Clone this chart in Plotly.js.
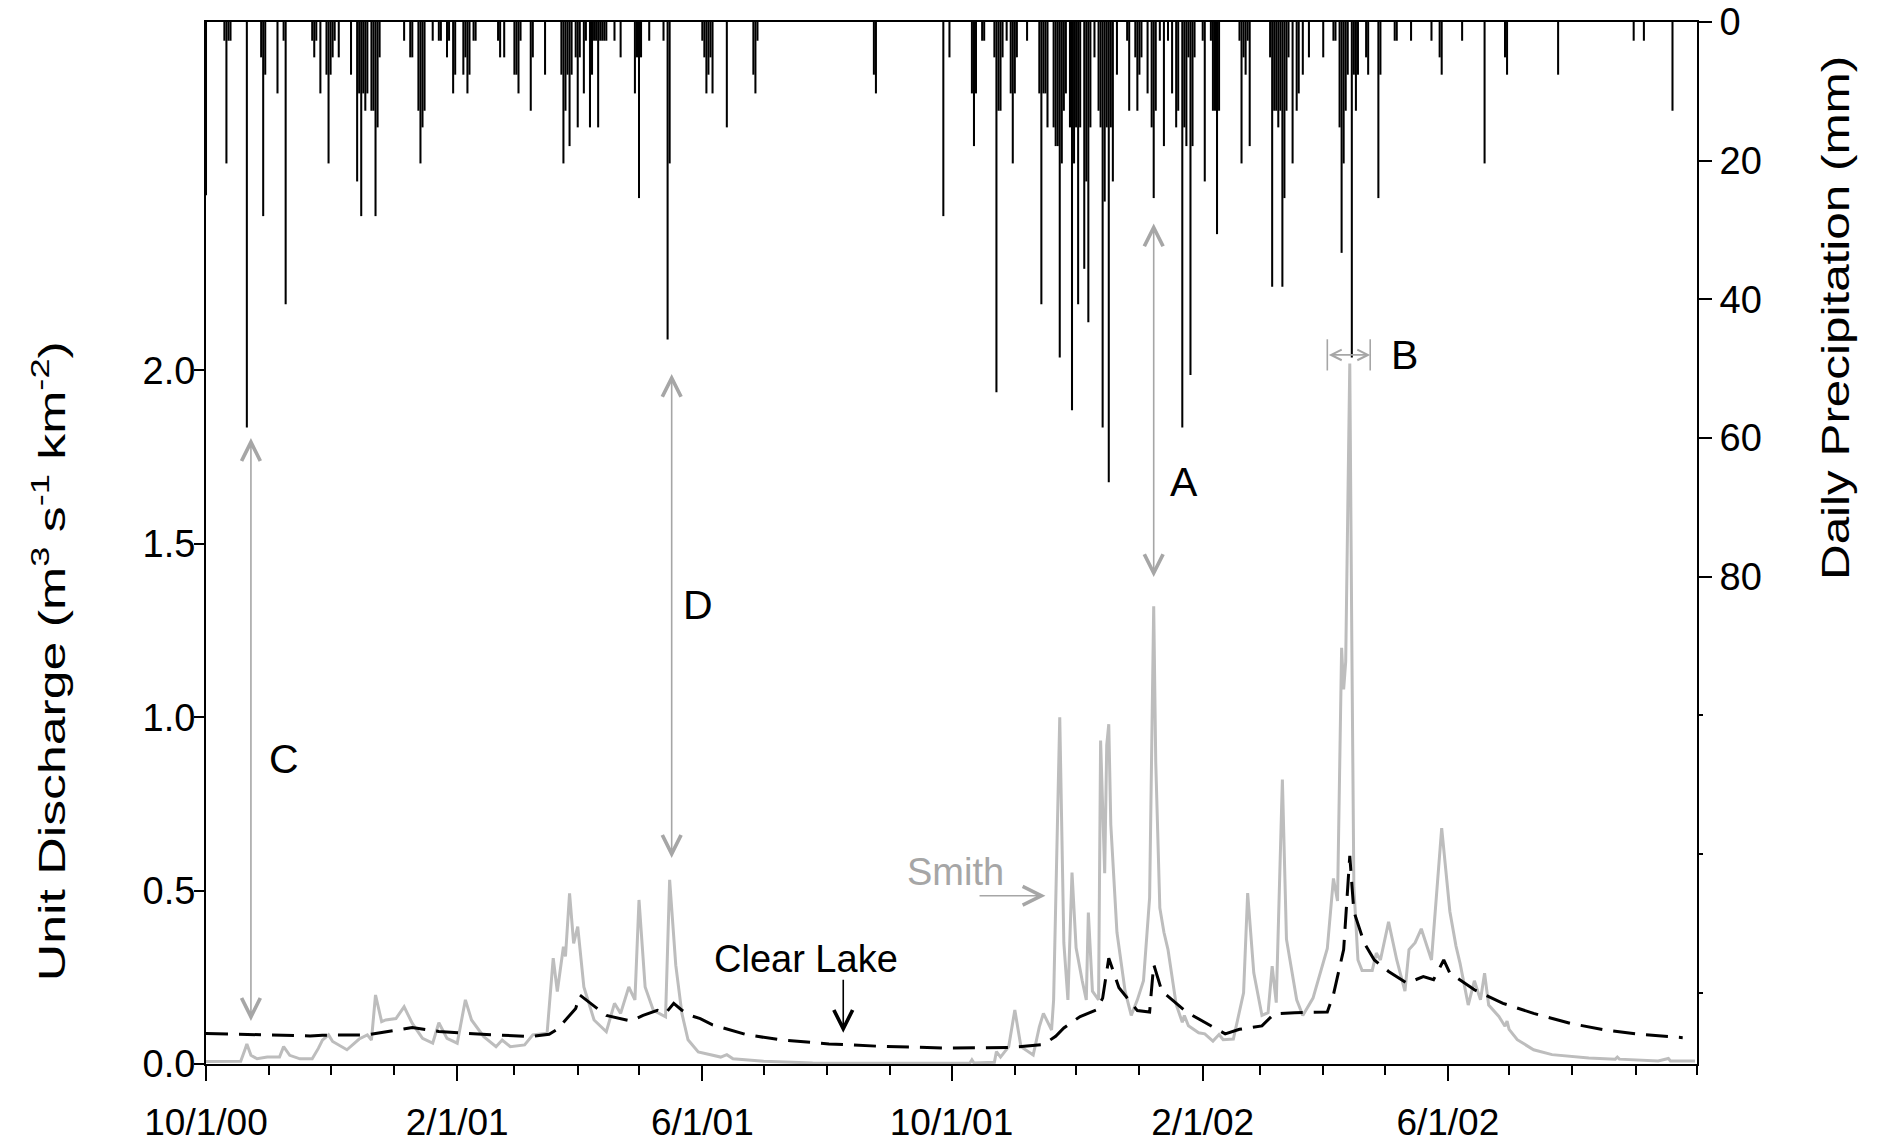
<!DOCTYPE html>
<html>
<head>
<meta charset="utf-8">
<script src="https://cdn.plot.ly/plotly-3.0.1.min.js"></script>
<style>html,body{margin:0;padding:0;background:#fff;}#chart{width:1881px;height:1144px;}</style>
</head>
<body>
<div id="chart"></div>
<script>
// ---------------- DATA ----------------
// Daily precipitation (mm), right axis (reversed)
const precipDates = [
 "2000-10-01","2000-10-10","2000-10-11","2000-10-12","2000-10-13","2000-10-21","2000-10-28","2000-10-29","2000-10-30",
 "2000-11-05","2000-11-08","2000-11-09","2000-11-22","2000-11-23","2000-11-24","2000-11-26","2000-11-29","2000-11-30",
 "2000-12-01","2000-12-02","2000-12-03","2000-12-05","2000-12-11","2000-12-14","2000-12-15","2000-12-16","2000-12-17",
 "2000-12-18","2000-12-19","2000-12-21","2000-12-22","2000-12-23","2000-12-24","2000-12-25",
 "2001-01-06","2001-01-09","2001-01-10","2001-01-13","2001-01-14","2001-01-15","2001-01-16","2001-01-20","2001-01-23",
 "2001-01-24","2001-01-27","2001-01-28","2001-01-30","2001-01-31",
 "2001-02-04","2001-02-05","2001-02-06","2001-02-07","2001-02-09","2001-02-10","2001-02-21","2001-02-22","2001-02-24",
 "2001-03-01","2001-03-02","2001-03-03","2001-03-04","2001-03-09","2001-03-10","2001-03-16","2001-03-24","2001-03-25",
 "2001-03-26","2001-03-27","2001-03-28","2001-03-29","2001-03-31",
 "2001-04-01","2001-04-02","2001-04-04","2001-04-05","2001-04-07","2001-04-08","2001-04-09","2001-04-10","2001-04-11",
 "2001-04-12","2001-04-13","2001-04-14","2001-04-15","2001-04-19","2001-04-22","2001-04-29","2001-04-30",
 "2001-05-01","2001-05-02","2001-05-06","2001-05-13","2001-05-15","2001-05-16",
 "2001-06-01","2001-06-02","2001-06-03","2001-06-04","2001-06-05","2001-06-06","2001-06-13","2001-06-26","2001-06-27","2001-06-28",
 "2001-08-24","2001-08-25","2001-09-27","2001-09-30",
 "2001-10-11","2001-10-12","2001-10-13","2001-10-16","2001-10-17","2001-10-22","2001-10-23","2001-10-24","2001-10-25",
 "2001-10-26","2001-10-28","2001-10-30","2001-10-31",
 "2001-11-01","2001-11-02","2001-11-07","2001-11-13","2001-11-14","2001-11-15","2001-11-16","2001-11-17","2001-11-20",
 "2001-11-21","2001-11-22","2001-11-23","2001-11-24","2001-11-25","2001-11-26","2001-11-28","2001-11-29","2001-11-30",
 "2001-12-01","2001-12-02","2001-12-03","2001-12-05","2001-12-06","2001-12-07","2001-12-08","2001-12-10","2001-12-12",
 "2001-12-13","2001-12-14","2001-12-15","2001-12-16","2001-12-17","2001-12-18","2001-12-19","2001-12-21","2001-12-26",
 "2001-12-27","2001-12-30","2001-12-31",
 "2002-01-01","2002-01-02","2002-01-05","2002-01-07","2002-01-08","2002-01-09","2002-01-11","2002-01-13","2002-01-15",
 "2002-01-17","2002-01-19","2002-01-20","2002-01-22","2002-01-23","2002-01-24","2002-01-25","2002-01-26","2002-01-27","2002-01-28",
 "2002-02-01","2002-02-02","2002-02-05","2002-02-06","2002-02-07","2002-02-08","2002-02-09","2002-02-19","2002-02-20",
 "2002-02-21","2002-02-22","2002-02-23","2002-02-24",
 "2002-03-06","2002-03-07","2002-03-08","2002-03-09","2002-03-10","2002-03-11","2002-03-12","2002-03-13","2002-03-14",
 "2002-03-15","2002-03-17","2002-03-19","2002-03-20","2002-03-22","2002-03-25",
 "2002-04-01","2002-04-06","2002-04-07","2002-04-09","2002-04-10","2002-04-11","2002-04-12","2002-04-13","2002-04-15",
 "2002-04-16","2002-04-17","2002-04-18","2002-04-22","2002-04-23","2002-04-28","2002-04-29",
 "2002-05-06","2002-05-07","2002-05-14","2002-05-24","2002-05-28","2002-05-29",
 "2002-06-08","2002-06-19","2002-06-29","2002-06-30","2002-07-25","2002-08-31","2002-09-05","2002-09-19"
];
const precipMm = [
 25,2.7,20.4,2.7,2.7,58.5,5.1,28,7.6,
 10.3,2.7,40.7,2.7,5.1,2.7,10.3,7.6,20.4,
 7.6,5.1,2.7,5.1,7.6,23,10.3,28,10.3,
 12.8,10.3,12.8,12.8,28,15.2,5.1,
 2.7,5.1,5.1,12.8,20.4,15.2,12.8,2.7,2.7,
 2.7,5.1,2.7,10.3,7.6,
 7.6,5.1,10.3,7.6,2.7,2.7,2.7,5.1,5.1,
 7.6,7.6,10.3,2.7,12.8,5.1,7.6,7.6,20.4,
 12.8,7.6,17.9,7.6,5.1,
 15.2,5.1,10.3,2.7,15.2,7.6,2.7,2.7,15.2,
 2.7,2.7,2.7,2.7,2.7,5.1,10.3,5.1,
 25.4,5.1,2.7,2.7,45.8,20.4,
 2.7,5.1,10.3,7.6,5.1,10.3,15.2,7.6,10.3,2.7,
 7.6,10.3,28,5.1,
 10.3,17.9,10.3,2.7,2.7,5.1,53.4,12.8,12.8,
 5.1,2.7,10.3,20.4,
 10.3,5.1,2.7,10.3,40.7,10.3,10.3,15.2,15.2,
 17.9,17.9,48.4,20.4,12.8,10.3,15.2,56,20.4,
 15.2,40.7,15.2,35.6,23,43.3,15.2,5.1,12.8,
 15.2,58.5,25.9,15.2,66.4,15.2,23,7.6,2.7,
 12.8,5.1,12.8,
 7.6,5.1,10.3,15.2,25.4,12.8,2.7,17.9,2.7,
 10.3,15.2,12.8,58.5,15.2,17.9,5.1,50.9,17.9,5.1,
 2.7,23,2.7,12.8,12.8,30.6,12.8,2.7,20.4,
 5.1,7.6,2.7,17.9,
 5.1,38.2,12.8,12.8,15.2,12.8,38.2,25.4,12.8,
 5.1,20.4,12.8,10.3,7.6,5.1,
 5.1,2.7,2.7,15.2,33.3,20.4,12.8,7.6,48.4,
 7.6,12.8,7.6,5.1,7.6,25.4,7.6,
 2.7,2.7,2.7,2.7,5.1,7.6,
 2.7,20.4,5.1,7.6,7.6,2.7,2.7,12.8
];

// Unit discharge, Smith (m3 s-1 km-2)
const smithDates = [
 "2000-10-01","2000-10-13","2000-10-18","2000-10-20","2000-10-21","2000-10-23","2000-10-26","2000-10-31",
 "2000-11-06","2000-11-08","2000-11-11","2000-11-16","2000-11-22","2000-11-25","2000-11-27","2000-11-30",
 "2000-12-02","2000-12-09","2000-12-15","2000-12-19","2000-12-21","2000-12-23","2000-12-26","2000-12-28",
 "2001-01-02","2001-01-06","2001-01-10","2001-01-15","2001-01-20","2001-01-23","2001-01-27",
 "2001-02-01","2001-02-05","2001-02-08","2001-02-14","2001-02-20","2001-02-23","2001-02-27",
 "2001-03-06","2001-03-10","2001-03-17","2001-03-20","2001-03-22","2001-03-25","2001-03-26","2001-03-28","2001-03-30",
 "2001-04-01","2001-04-04","2001-04-09","2001-04-15","2001-04-19","2001-04-22","2001-04-26","2001-04-29",
 "2001-05-01","2001-05-04","2001-05-08","2001-05-14","2001-05-16","2001-05-19","2001-05-22","2001-05-25","2001-05-30",
 "2001-06-06","2001-06-10","2001-06-13","2001-06-16","2001-07-01","2001-07-25","2001-08-27","2001-09-26",
 "2001-10-10","2001-10-11","2001-10-12","2001-10-22","2001-10-23","2001-10-25","2001-10-29",
 "2001-11-01","2001-11-04","2001-11-10","2001-11-13","2001-11-15","2001-11-17","2001-11-19","2001-11-20","2001-11-23",
 "2001-11-25","2001-11-27","2001-11-29",
 "2001-12-01","2001-12-04","2001-12-06","2001-12-07","2001-12-09","2001-12-12","2001-12-13","2001-12-15","2001-12-16",
 "2001-12-17","2001-12-18","2001-12-21","2001-12-25","2001-12-28","2001-12-30","2001-12-31",
 "2002-01-03","2002-01-06","2002-01-08","2002-01-09","2002-01-11","2002-01-13","2002-01-15","2002-01-19","2002-01-22",
 "2002-01-23","2002-01-25","2002-01-30",
 "2002-02-02","2002-02-06","2002-02-09","2002-02-11","2002-02-16","2002-02-21","2002-02-23","2002-02-26",
 "2002-03-02","2002-03-05","2002-03-07","2002-03-09","2002-03-12","2002-03-14","2002-03-19","2002-03-22","2002-03-27",
 "2002-04-03","2002-04-06","2002-04-08","2002-04-10","2002-04-11","2002-04-12","2002-04-14","2002-04-15","2002-04-16",
 "2002-04-18","2002-04-20","2002-04-25","2002-04-27","2002-04-29",
 "2002-05-03","2002-05-07","2002-05-11","2002-05-13","2002-05-16","2002-05-19","2002-05-24","2002-05-29",
 "2002-06-02","2002-06-05","2002-06-07","2002-06-11","2002-06-14","2002-06-17","2002-06-19","2002-06-21","2002-06-26",
 "2002-06-29","2002-06-30",
 "2002-07-01","2002-07-05","2002-07-13","2002-07-22","2002-08-09","2002-08-22","2002-08-23","2002-08-24",
 "2002-09-12","2002-09-17","2002-09-18","2002-09-30"
];
const smithQ = [
 0.007,0.007,0.008,0.04,0.058,0.025,0.015,0.02,
 0.02,0.05,0.025,0.015,0.015,0.045,0.069,0.084,
 0.065,0.041,0.072,0.084,0.069,0.199,0.122,0.127,
 0.131,0.165,0.117,0.074,0.06,0.119,0.074,
 0.06,0.185,0.127,0.079,0.05,0.069,0.05,
 0.055,0.084,0.089,0.305,0.209,0.338,0.31,0.492,0.348,
 0.396,0.222,0.127,0.093,0.175,0.146,0.222,0.185,
 0.473,0.222,0.155,0.136,0.531,0.285,0.146,0.07,0.035,
 0.025,0.02,0.027,0.015,0.008,0.003,0.002,0.002,
 0.003,0.012,0.003,0.005,0.036,0.02,0.05,
 0.156,0.05,0.026,0.107,0.146,0.12,0.098,0.185,1.0,
 0.349,0.185,0.552,
 0.335,0.24,0.185,0.437,0.21,0.185,0.933,0.55,0.92,
 0.98,0.69,0.38,0.21,0.14,0.17,0.185,
 0.24,0.48,1.32,0.87,0.45,0.38,0.33,0.172,0.12,
 0.14,0.11,0.09,
 0.087,0.066,0.085,0.07,0.072,0.205,0.493,0.263,
 0.14,0.148,0.282,0.177,0.82,0.36,0.185,0.14,0.19,
 0.333,0.535,0.47,1.2,1.08,1.16,2.02,1.22,0.51,
 0.3,0.27,0.27,0.32,0.3,
 0.41,0.3,0.21,0.33,0.35,0.39,0.3,0.68,
 0.44,0.34,0.29,0.17,0.24,0.185,0.262,0.17,0.137,
 0.109,0.124,
 0.1,0.07,0.041,0.027,0.017,0.014,0.02,0.014,
 0.009,0.016,0.009,0.009
];

// Unit discharge, Clear Lake (m3 s-1 km-2)
const clearDates = [
 "2000-10-01","2000-11-21","2000-11-27","2000-12-19","2001-01-10","2001-01-23","2001-02-06","2001-02-22",
 "2001-03-09","2001-03-18","2001-03-22","2001-03-31","2001-04-02","2001-04-15","2001-04-22","2001-04-27",
 "2001-05-03","2001-05-10","2001-05-14","2001-05-18","2001-05-22","2001-05-26","2001-05-31","2001-06-06",
 "2001-06-23","2001-07-09","2001-08-02","2001-08-27","2001-09-29","2001-10-31","2001-11-15","2001-11-21",
 "2001-11-25","2001-12-03","2001-12-11","2001-12-14","2001-12-17","2001-12-22","2001-12-31",
 "2002-01-06","2002-01-08","2002-01-12","2002-01-24","2002-02-12","2002-02-19","2002-03-02","2002-03-08",
 "2002-03-18","2002-04-03","2002-04-06","2002-04-11","2002-04-14","2002-04-16","2002-04-21","2002-04-26",
 "2002-05-03","2002-05-12","2002-05-20","2002-05-25","2002-05-30","2002-06-02","2002-06-14","2002-06-28",
 "2002-07-13","2002-07-31","2002-08-17","2002-09-04","2002-09-24"
];
const clearQ = [
 0.088,0.081,0.083,0.084,0.105,0.094,0.088,0.084,
 0.079,0.086,0.1,0.16,0.199,0.14,0.131,0.124,
 0.14,0.155,0.146,0.175,0.155,0.14,0.131,0.113,
 0.084,0.07,0.058,0.051,0.046,0.048,0.056,0.08,
 0.104,0.137,0.156,0.19,0.305,0.22,0.154,
 0.15,0.287,0.21,0.15,0.087,0.1,0.11,0.145,
 0.148,0.15,0.2,0.33,0.6,0.44,0.35,0.3,
 0.267,0.233,0.252,0.243,0.3,0.262,0.214,0.175,
 0.146,0.117,0.098,0.085,0.076
];

// Axis ticks
const xTickVals = ["2000-10-01","2001-02-01","2001-06-01","2001-10-01","2002-02-01","2002-06-01"];
const xTickText = ["10/1/00","2/1/01","6/1/01","10/1/01","2/1/02","6/1/02"];
const qTickVals = [0, 0.5, 1.0, 1.5, 2.0];
const qTickText = ["0.0","0.5","1.0","1.5","2.0"];
const pTickVals = [0, 20, 40, 60, 80];
const pMinorVals = [100, 120, 140];

// ---------------- PLOT ----------------
const FONT = "Liberation Sans, Arial, Helvetica, sans-serif";
const GRAY = "#bdbdbd";
const AGRAY = "#a6a6a6";

const traces = [
  {
    type: "scatter", mode: "lines", x: smithDates, y: smithQ, xaxis: "x", yaxis: "y",
    line: {color: GRAY, width: 3}, hoverinfo: "skip", name: "Smith"
  },
  {
    type: "scatter", mode: "lines", x: clearDates, y: clearQ, xaxis: "x", yaxis: "y",
    line: {color: "#000", width: 3, dash: "22px,11px"}, hoverinfo: "skip", name: "Clear Lake"
  },
  {
    type: "bar", x: precipDates, y: precipMm, xaxis: "x", yaxis: "y2",
    width: 86400000, marker: {color: "#000", line: {width: 0}}, hoverinfo: "skip", name: "Precip"
  }
];

function arrowAnn(x, y, ax, ay, color, both, size) {
  const s = size || 2.3;
  return {
    x: x, y: y, ax: ax, ay: ay, xref: "x", yref: "y", axref: "x", ayref: "y",
    text: "", showarrow: true, arrowhead: 5, startarrowhead: 5,
    arrowside: both ? "end+start" : "end",
    arrowsize: s, startarrowsize: s, arrowwidth: 1.6, arrowcolor: color,
    standoff: 0, startstandoff: 0
  };
}
function textAnn(x, y, text, size, color) {
  return {
    x: x, y: y, xref: "x", yref: "y", text: text, showarrow: false,
    xanchor: "center", yanchor: "middle", font: {family: FONT, size: size, color: color}
  };
}

const annotations = [
  // C
  arrowAnn("2000-10-23", 1.805, "2000-10-23", 0.12, AGRAY, true),
  textAnn("2000-11-08", 0.879, "C", 41, "#000"),
  // D
  arrowAnn("2001-05-17", 1.99, "2001-05-17", 0.59, AGRAY, true),
  textAnn("2001-05-30", 1.325, "D", 41, "#000"),
  // A
  arrowAnn("2002-01-08", 2.424, "2002-01-08", 1.40, AGRAY, true),
  textAnn("2002-01-23", 1.678, "A", 41, "#000"),
  // B
  arrowAnn("2002-04-24", 2.045, "2002-04-03", 2.045, AGRAY, true, 1.3),
  textAnn("2002-05-11", 2.045, "B", 41, "#000"),
  // Smith
  textAnn("2001-10-03", 0.555, "Smith", 38, AGRAY),
  arrowAnn("2001-11-16", 0.485, "2001-10-14", 0.485, AGRAY, false),
  // Clear Lake
  textAnn("2001-07-22", 0.303, "Clear Lake", 38, "#000"),
  arrowAnn("2001-08-09", 0.09, "2001-08-09", 0.247, "#000", false),
  // axis titles
  {
    xref: "paper", yref: "paper", x: -0.1046, y: 0.386, showarrow: false, textangle: -90,
    xanchor: "center", yanchor: "middle",
    text: "Unit Discharge (m<sup>3</sup> s<sup>-1</sup> km<sup>-2</sup>)",
    font: {family: FONT, size: 37, color: "#000"}
  },
  {
    xref: "paper", yref: "paper", x: 1.093, y: 0.716, showarrow: false, textangle: -90,
    xanchor: "center", yanchor: "middle",
    text: "Daily Precipitation (mm)",
    font: {family: FONT, size: 38, color: "#000"}
  }
];

const shapes = [
  {type: "line", xref: "x", yref: "y", x0: "2002-04-03", x1: "2002-04-03", y0: 2.0, y1: 2.09, line: {color: AGRAY, width: 1.6}},
  {type: "line", xref: "x", yref: "y", x0: "2002-04-24", x1: "2002-04-24", y0: 2.0, y1: 2.09, line: {color: AGRAY, width: 1.6}}
];

const tickFont = {family: FONT, size: 38, color: "#000"};

const layout = {
  width: 1881, height: 1144,
  margin: {l: 206, r: 184, t: 22, b: 80, pad: 0},
  paper_bgcolor: "#fff", plot_bgcolor: "#fff",
  showlegend: false,
  xaxis: {
    type: "date", range: ["2000-10-01", "2002-10-01"],
    tickmode: "array", tickvals: xTickVals, ticktext: xTickText,
    ticks: "outside", ticklen: 15, tickwidth: 2, tickcolor: "#000",
    minor: {ticks: "outside", ticklen: 9, tickwidth: 2, tickcolor: "#000", tickmode: "linear", tick0: "2000-10-01", dtick: "M1", showgrid: false},
    showline: true, linecolor: "#000", linewidth: 2, mirror: true,
    showgrid: false, zeroline: false, tickfont: {family: FONT, size: 37, color: "#000"}, ticklabelstandoff: 10
  },
  yaxis: {
    range: [0, 3.005], tickmode: "array", tickvals: qTickVals, ticktext: qTickText,
    ticks: "outside", ticklen: 10, tickwidth: 2, tickcolor: "#000",
    showline: true, linecolor: "#000", linewidth: 2,
    showgrid: false, zeroline: false, tickfont: tickFont, ticklabelstandoff: -9
  },
  yaxis2: {
    overlaying: "y", side: "right", range: [150.3, 0],
    tickmode: "array", tickvals: pTickVals, ticktext: pTickVals.map(String),
    ticks: "outside", ticklen: 13, tickwidth: 2, tickcolor: "#000",
    minor: {ticks: "outside", ticklen: 4, tickwidth: 2, tickcolor: "#000", tickmode: "array", tickvals: pMinorVals, showgrid: false},
    showline: true, linecolor: "#000", linewidth: 2,
    showgrid: false, zeroline: false, tickfont: tickFont, ticklabelstandoff: 0
  },
  annotations: annotations,
  shapes: shapes
};

const gd = document.getElementById("chart");
Plotly.newPlot(gd, traces, layout, {staticPlot: true, displayModeBar: false}).then(function () {
  // stretch the axis-title text along its length to match the original's proportions
  gd.querySelectorAll("text.annotation-text").forEach(function (t) {
    const s = t.textContent || "";
    let k = 0;
    if (s.indexOf("Unit") === 0) k = 1.4;
    else if (s.indexOf("Daily") === 0) k = 1.3;
    if (!k) return;
    const bb = t.getBBox();
    const cx = bb.x + bb.width / 2, cy = bb.y + bb.height / 2;
    const prev = t.getAttribute("transform") || "";
    t.setAttribute("transform", prev + " translate(" + cx + "," + cy + ") scale(" + k + ",1) translate(" + (-cx) + "," + (-cy) + ")");
  });
});
</script>
</body>
</html>
